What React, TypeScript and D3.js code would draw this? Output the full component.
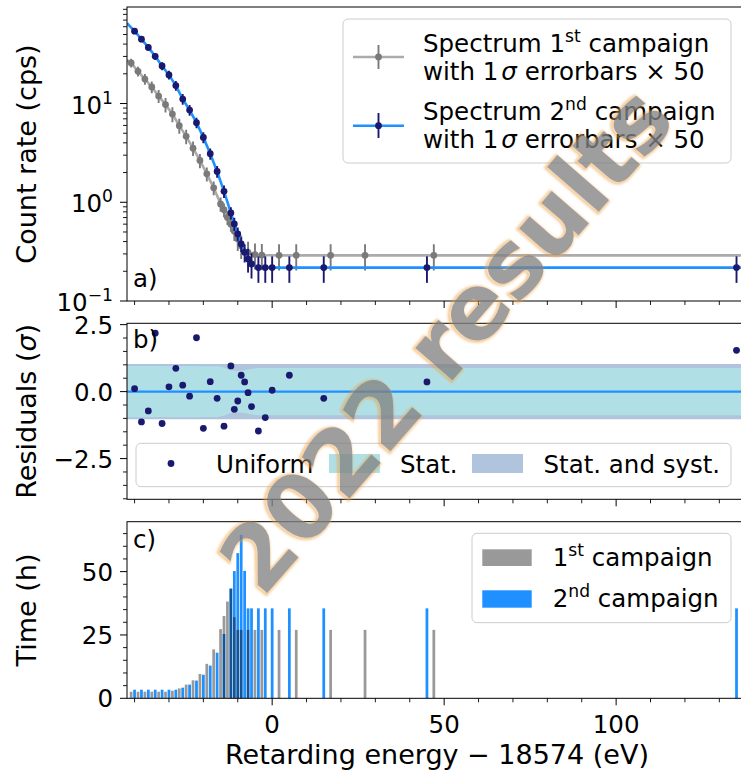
import React from 'react';
import * as d3 from 'd3';

// Retarding energies (relative to 18574 eV) and measured rates, 1st campaign
const energies1 = [-41, -39, -37, -35, -33, -31, -29, -27, -25, -23, -21, -19, -17, -15, -14, -13, -12, -11, -10, -9, -7, -5, -3, 2, 7, 17, 27, 47];
const rates1 = [25.8, 21.2, 17.7, 14.7, 11.9, 9.75, 7.82, 5.97, 4.65, 3.53, 2.65, 1.94, 1.40, 0.96, 0.84, 0.70, 0.60, 0.51, 0.425, 0.363, 0.31, 0.295, 0.292, 0.29, 0.29, 0.29, 0.29, 0.29];
const times1 = [2.6, 2.6, 2.6, 2.6, 2.6, 2.6, 3.0, 3.9, 5.4, 7.1, 9.6, 13.6, 19.3, 27.3, 32.5, 38.2, 43.3, 32, 27, 27, 27, 27, 27, 27, 27, 27, 27, 27];

// 2nd campaign
const energies2 = [-40, -38, -36, -34, -32, -30, -28, -26, -24, -22, -20, -18, -16, -14, -12, -11, -10, -9, -8, -7, -6, -4, -2, 0, 5, 15, 45, 135];
const rates2 = [54.1, 44.9, 37.0, 30.1, 24.0, 19.5, 15.2, 11.1, 8.59, 6.40, 4.54, 3.10, 2.05, 1.29, 0.78, 0.604, 0.478, 0.378, 0.311, 0.266, 0.237, 0.218, 0.218, 0.218, 0.218, 0.218, 0.218, 0.218];
const times2 = [3.4, 3.4, 3.4, 3.4, 3.4, 3.4, 3.4, 4.2, 5.4, 7.0, 9.3, 12.9, 18.0, 25.4, 43.3, 50.2, 57.3, 64.5, 50.3, 35.5, 35.5, 35.5, 35.5, 35.5, 35.5, 35.5, 35.5, 35.5];
const residuals2 = [0.11, -1.13, -0.72, 2.18, -1.19, 0.18, 0.87, 0.24, -0.17, 2.01, -1.37, 0.37, -0.25, -1.29, 0.96, -0.66, -0.35, 0.61, 0.36, -0.04, -0.56, -1.47, -0.97, 0.05, 0.61, -0.25, 0.36, 1.54];

// Model rates at the left edge of the energy window
const fitStart1 = 27.5;
const fitStart2 = 65.2;

// Residual uncertainty bands (in units of total sigma)
const bandEnergies = [-42.2, -16, -14, -12, -10, -8, -6, -4, 137];
const statHalfWidth = [0.96, 0.95, 0.9, 0.8, 0.77, 0.8, 0.85, 0.88, 0.88];
const totalHalfWidth = 1.03;

const X_DOMAIN: [number, number] = [-42.2, 137];
const xMajorTicks = [0, 50, 100];
const yMajorA = [0.1, 1, 10];
const yMajorB = [2.5, 0, -2.5];
const yMajorC = [0, 25, 50];

const FONT = '"DejaVu Sans", Verdana, sans-serif';
const GRAY_MARK = '#7a7a7a';
const GRAY_LINE = '#ababab';
const BLUE = '#1e90ff';
const NAVY = '#191970';
const TICK_FS = 24.5;
const LABEL_FS = 27;
const LEG_FS = 24.5;

// 1 sigma statistical uncertainty of a rate, scaled by 50
const errorOf = (rate: number, hours: number) => 50 * Math.sqrt(rate / (hours * 3600));

export default function App() {
  const L = 127;
  const R = 743.4;
  const pA = { top: 7, bottom: 301 };
  const pB = { top: 323.3, bottom: 499.3 };
  const pC = { top: 521.7, bottom: 698.3 };

  const x = d3.scaleLinear().domain(X_DOMAIN).range([L, R]);
  const yA = d3.scaleLog().domain([0.1, 95]).range([pA.bottom, pA.top]);
  const yB = d3.scaleLinear().domain([-4.02, 2.55]).range([pB.bottom, pB.top]);
  const yC = d3.scaleLinear().domain([0, 69.7]).range([pC.bottom, pC.top]);

  const xMinor = d3.range(-40, 137, 10).filter((v) => !xMajorTicks.includes(v));
  const yMinorA: number[] = [];
  [0.1, 1, 10].forEach((dec) => {
    for (let k = 2; k <= 9; k++) {
      const v = dec * k;
      if (v < 95) yMinorA.push(v);
    }
  });
  const yMinorB = d3.range(-4, 2.55, 0.5).filter((v) => !yMajorB.some((m) => Math.abs(m - v) < 1e-6));
  const yMinorC = d3.range(0, 69.7, 5).filter((v) => !yMajorC.includes(v));

  const pts1 = energies1.map((e, i) => ({ e, r: rates1[i], t: times1[i] }));
  const pts2 = energies2.map((e, i) => ({ e, r: rates2[i], t: times2[i], res: residuals2[i] }));

  const lineA = d3
    .line<{ e: number; r: number }>()
    .x((d) => x(d.e))
    .y((d) => yA(d.r));
  const model1 = [{ e: X_DOMAIN[0], r: fitStart1 }, ...pts1, { e: X_DOMAIN[1], r: rates1[rates1.length - 1] }];
  const model2 = [{ e: X_DOMAIN[0], r: fitStart2 }, ...pts2, { e: X_DOMAIN[1], r: rates2[rates2.length - 1] }];

  const bandData = bandEnergies.map((e, i) => ({ e, s: statHalfWidth[i] }));
  const statArea = d3
    .area<{ e: number; s: number }>()
    .x((d) => x(d.e))
    .y0((d) => yB(-d.s))
    .y1((d) => yB(d.s));
  const totalArea = d3
    .area<{ e: number; s: number }>()
    .x((d) => x(d.e))
    .y0(() => yB(-totalHalfWidth))
    .y1(() => yB(totalHalfWidth));

  const barHalf = 0.4;

  const xTicks = (yBase: number, withLabels: boolean, key: string) => (
    <g key={key}>
      {xMajorTicks.map((v) => (
        <line key={'M' + v} x1={x(v)} x2={x(v)} y1={yBase} y2={yBase + 7} stroke="#000" strokeWidth={1} />
      ))}
      {xMinor.map((v) => (
        <line key={'m' + v} x1={x(v)} x2={x(v)} y1={yBase} y2={yBase + 4} stroke="#000" strokeWidth={0.9} />
      ))}
      {withLabels &&
        xMajorTicks.map((v) => (
          <text key={'t' + v} x={x(v)} y={yBase + 35} textAnchor="middle" fontSize={TICK_FS}>
            {String(v)}
          </text>
        ))}
    </g>
  );

  const yTicks = (
    scale: (v: number) => number,
    major: number[],
    minor: number[],
    fmt: (v: number) => React.ReactNode,
    key: string
  ) => (
    <g key={key}>
      {major.map((v) => (
        <line key={'M' + v} x1={L - 7} x2={L} y1={scale(v)} y2={scale(v)} stroke="#000" strokeWidth={1} />
      ))}
      {minor.map((v) => (
        <line key={'m' + v} x1={L - 4} x2={L} y1={scale(v)} y2={scale(v)} stroke="#000" strokeWidth={0.9} />
      ))}
      {major.map((v) => (
        <text key={'t' + v} x={L - 14} y={scale(v) + 9} textAnchor="end" fontSize={TICK_FS}>
          {fmt(v)}
        </text>
      ))}
    </g>
  );

  const fmtLog = (v: number) => {
    const ex = Math.round(Math.log10(v));
    return (
      <>
        <tspan dy={1}>10</tspan>
        <tspan fontSize={TICK_FS * 0.7} dy={-10}>
          {ex < 0 ? '\u2212' + Math.abs(ex) : String(ex)}
        </tspan>
      </>
    );
  };
  const fmtRes = (v: number) => (v < 0 ? '\u2212' + Math.abs(v).toFixed(1) : v.toFixed(1));

  const sup = (s: string) => (
    <tspan fontSize={LEG_FS * 0.7} dy={-10}>
      {s}
    </tspan>
  );

  const wmCx = 470;
  const wmCy = 360;

  return (
    <svg
      width={741}
      height={771}
      style={{ position: 'absolute', left: 0, top: 0, background: '#fff' }}
      fontFamily={FONT}
      fill="#000"
    >
      <defs>
        <clipPath id="clipA">
          <rect x={L} y={pA.top} width={R - L} height={pA.bottom - pA.top} />
        </clipPath>
        <clipPath id="clipB">
          <rect x={L} y={pB.top} width={R - L} height={pB.bottom - pB.top} />
        </clipPath>
        <clipPath id="clipC">
          <rect x={L} y={pC.top} width={R - L} height={pC.bottom - pC.top} />
        </clipPath>
        <filter id="glow" x="-10%" y="-10%" width="120%" height="120%">
          <feGaussianBlur stdDeviation={1.1} />
        </filter>
      </defs>
      <rect x={0} y={0} width={741} height={771} fill="#fff" />

      {/* Panel a: integral spectrum */}
      <g clipPath="url(#clipA)">
        <path d={lineA(model1) || ''} fill="none" stroke={GRAY_LINE} strokeWidth={2.6} />
        {pts1.map((d, i) => {
          const err = errorOf(d.r, d.t);
          return (
            <g key={'g1' + i}>
              <line x1={x(d.e)} x2={x(d.e)} y1={yA(d.r + err)} y2={yA(Math.max(d.r - err, 0.101))} stroke={GRAY_MARK} strokeWidth={1.9} />
              <circle cx={x(d.e)} cy={yA(d.r)} r={3.4} fill={GRAY_MARK} />
            </g>
          );
        })}
        <path d={lineA(model2) || ''} fill="none" stroke={BLUE} strokeWidth={2.6} />
        {pts2.map((d, i) => {
          const err = errorOf(d.r, d.t);
          return (
            <g key={'g2' + i}>
              <line x1={x(d.e)} x2={x(d.e)} y1={yA(d.r + err)} y2={yA(Math.max(d.r - err, 0.101))} stroke={NAVY} strokeWidth={1.9} />
              <circle cx={x(d.e)} cy={yA(d.r)} r={3.4} fill={NAVY} />
            </g>
          );
        })}
      </g>
      <rect x={L} y={pA.top} width={R - L} height={pA.bottom - pA.top} fill="none" stroke="#000" strokeWidth={1} />
      {xTicks(pA.bottom, false, 'xa')}
      {yTicks((v) => yA(v), yMajorA, yMinorA, fmtLog, 'ya')}
      <text x={133} y={287} fontSize={LEG_FS}>a)</text>

      {/* Legend a */}
      <g>
        <rect x={343} y={19} width={388} height={144} rx={5} fill="#fff" fillOpacity={0.8} stroke="#cccccc" strokeWidth={1} />
        <line x1={353} x2={404} y1={57} y2={57} stroke={GRAY_LINE} strokeWidth={2.6} />
        <line x1={378.5} x2={378.5} y1={45} y2={69} stroke={GRAY_MARK} strokeWidth={1.9} />
        <circle cx={378.5} cy={57} r={3.4} fill={GRAY_MARK} />
        <text x={423} y={52} fontSize={LEG_FS}>
          Spectrum 1{sup('st')}
          <tspan dy={10}> campaign</tspan>
        </text>
        <text x={423} y={80} fontSize={LEG_FS}>
          with 1<tspan fontStyle="italic" dx={3}>σ</tspan> errorbars × 50
        </text>
        <line x1={353} x2={404} y1={125.7} y2={125.7} stroke={BLUE} strokeWidth={2.6} />
        <line x1={378.5} x2={378.5} y1={113} y2={138} stroke={NAVY} strokeWidth={1.9} />
        <circle cx={378.5} cy={125.7} r={3.4} fill={NAVY} />
        <text x={423} y={119.5} fontSize={LEG_FS}>
          Spectrum 2{sup('nd')}
          <tspan dy={10}> campaign</tspan>
        </text>
        <text x={423} y={148} fontSize={LEG_FS}>
          with 1<tspan fontStyle="italic" dx={3}>σ</tspan> errorbars × 50
        </text>
      </g>

      {/* Panel b: residuals */}
      <g clipPath="url(#clipB)">
        <path d={totalArea(bandData) || ''} fill="#b0c4de" />
        <path d={statArea(bandData) || ''} fill="#b0e0e6" />
        <line x1={L} x2={R} y1={yB(0)} y2={yB(0)} stroke={BLUE} strokeWidth={2.2} />
        {pts2.map((d, i) => (
          <circle key={'r' + i} cx={x(d.e)} cy={yB(d.res)} r={3.4} fill={NAVY} />
        ))}
      </g>
      <rect x={L} y={pB.top} width={R - L} height={pB.bottom - pB.top} fill="none" stroke="#000" strokeWidth={1} />
      {xTicks(pB.bottom, false, 'xb')}
      {yTicks((v) => yB(v), yMajorB, yMinorB, fmtRes, 'yb')}
      <text x={133} y={348} fontSize={LEG_FS}>b)</text>

      {/* Legend b */}
      <g>
        <rect x={136} y={443.3} width={595} height={43.4} rx={5} fill="#fff" fillOpacity={0.8} stroke="#cccccc" strokeWidth={1} />
        <circle cx={171} cy={463.5} r={3.4} fill={NAVY} />
        <text x={216} y={472.5} fontSize={LEG_FS}>Uniform</text>
        <rect x={329} y={454} width={51} height={19} fill="#b0e0e6" />
        <text x={400} y={472.5} fontSize={LEG_FS}>Stat.</text>
        <rect x={472} y={454} width={51} height={19} fill="#b0c4de" />
        <text x={543.5} y={472.5} fontSize={LEG_FS}>Stat. and syst.</text>
      </g>

      {/* Panel c: measurement time distribution */}
      <g clipPath="url(#clipC)">
        {pts2.map((d, i) => (
          <rect
            key={'b2' + i}
            x={x(d.e - barHalf)}
            width={x(d.e + barHalf) - x(d.e - barHalf)}
            y={yC(d.t)}
            height={yC(0) - yC(d.t)}
            fill={BLUE}
          />
        ))}
        {pts1.map((d, i) => (
          <rect
            key={'b1' + i}
            x={x(d.e - barHalf)}
            width={x(d.e + barHalf) - x(d.e - barHalf)}
            y={yC(d.t)}
            height={yC(0) - yC(d.t)}
            fill="#000"
            fillOpacity={0.4}
          />
        ))}
      </g>
      <rect x={L} y={pC.top} width={R - L} height={pC.bottom - pC.top} fill="none" stroke="#000" strokeWidth={1} />
      {xTicks(pC.bottom, true, 'xc')}
      {yTicks((v) => yC(v), yMajorC, yMinorC, (v) => String(v), 'yc')}
      <text x={133} y={548} fontSize={LEG_FS}>c)</text>

      {/* Legend c */}
      <g>
        <rect x={472} y={533.3} width={259} height={89.4} rx={5} fill="#fff" fillOpacity={0.8} stroke="#cccccc" strokeWidth={1} />
        <rect x={482.3} y={549.3} width={49.4} height={16.7} fill="#000" fillOpacity={0.4} />
        <text x={552.7} y={566} fontSize={LEG_FS}>
          1{sup('st')}
          <tspan dy={10}> campaign</tspan>
        </text>
        <rect x={482.3} y={590.3} width={49.4} height={17.4} fill={BLUE} />
        <text x={552.7} y={607.3} fontSize={LEG_FS}>
          2{sup('nd')}
          <tspan dy={10}> campaign</tspan>
        </text>
      </g>

      {/* Axis labels */}
      <text transform={`translate(36,${(pA.top + pA.bottom) / 2}) rotate(-90)`} textAnchor="middle" fontSize={LABEL_FS}>
        Count rate (cps)
      </text>
      <text transform={`translate(36,${(pB.top + pB.bottom) / 2}) rotate(-90)`} textAnchor="middle" fontSize={LABEL_FS}>
        Residuals (<tspan fontStyle="italic">σ</tspan>)
      </text>
      <text transform={`translate(36,${(pC.top + pC.bottom) / 2}) rotate(-90)`} textAnchor="middle" fontSize={LABEL_FS}>
        Time (h)
      </text>
      <text x={(L + 741) / 2 + 3} y={764} textAnchor="middle" fontSize={LABEL_FS}>
        Retarding energy − 18574 (eV)
      </text>

      {/* Watermark */}
      <g opacity={0.78} transform={`rotate(-49, ${wmCx}, ${wmCy})`}>
        <text
          x={wmCx - 1.5}
          y={wmCy}
          textAnchor="middle"
          fontSize={90}
          fontWeight="bold"
          fill="none"
          stroke="#f0a040"
          strokeWidth={3}
          strokeOpacity={0.75}
          filter="url(#glow)"
        >
          2022 results
        </text>
        <text x={wmCx} y={wmCy} textAnchor="middle" fontSize={90} fontWeight="bold" fill="#838383">
          2022 results
        </text>
      </g>
    </svg>
  );
}
